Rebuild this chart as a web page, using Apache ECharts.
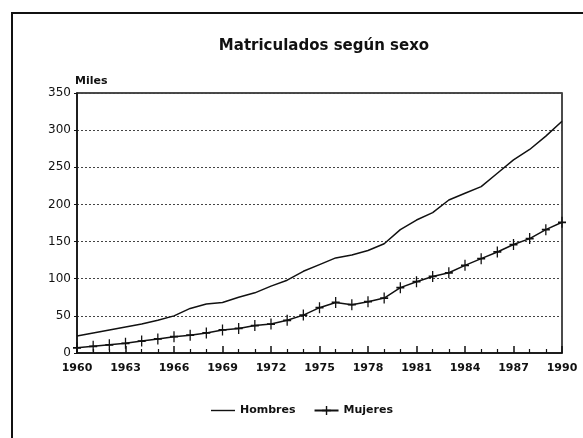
<!DOCTYPE html>
<html>
<head>
<meta charset="utf-8">
<script src="https://cdn.jsdelivr.net/npm/echarts@6/dist/echarts.min.js"></script>
<style>
html,body{margin:0;padding:0;background:#fff;}
#chart{width:583px;height:438px;}
</style>
</head>
<body>
<div id="chart"></div>
<script>
const years = [1960,1961,1962,1963,1964,1965,1966,1967,1968,1969,1970,1971,1972,1973,1974,1975,1976,1977,1978,1979,1980,1981,1982,1983,1984,1985,1986,1987,1988,1989,1990];
const hombres = [23,27,31,35,39,44,50,60,66,68,75,81,90,98,110,119,128,132,138,147,166,179,189,206,215,224,242,260,274,292,312];
const mujeres = [7,9,11,13,16,19,22,24,27,31,33,37,39,44,51,61,68,65,69,74,88,96,103,108,118,127,136,146,154,166,176];
const seriesNames = ['Hombres','Mujeres'];
const titleText = 'Matriculados según sexo';
const yUnit = 'Miles';

const font = 'DejaVu Sans';
const chart = echarts.init(document.getElementById('chart'));
const plus = 'path://M4.2,0H5.8V4.2H10V5.8H5.8V10H4.2V5.8H0V4.2H4.2Z';
const lineIcon = 'path://M0,4.3H24V5.7H0Z';
chart.setOption({
  animation:false,
  backgroundColor:'#fff',
  title:{text:titleText,left:319,top:34,textAlign:'center',
    textStyle:{fontFamily:font,fontWeight:'bold',fontSize:15,color:'#111'}},
  graphic:[{type:'rect',shape:{x:12,y:13,width:620,height:480},
    style:{fill:'none',stroke:'#111',lineWidth:2},silent:true}],
  legend:{top:400,left:206,itemGap:18,itemWidth:24,itemHeight:11,
    textStyle:{fontFamily:font,fontWeight:'bold',fontSize:11,color:'#111'},
    data:[{name:seriesNames[0],icon:lineIcon},{name:seriesNames[1]}]},
  grid:{left:77,right:21,top:93,bottom:85,show:true,borderColor:'#111',borderWidth:1.5},
  xAxis:{type:'value',min:1960,max:1990,interval:3,
    axisLine:{lineStyle:{color:'#111',width:1.5}},
    axisTick:{inside:true,length:7,lineStyle:{color:'#111',width:1.5}},
    minorTick:{show:true,splitNumber:3,length:4,lineStyle:{color:'#111',width:1.2}},
    splitLine:{show:false},
    axisLabel:{fontFamily:font,fontWeight:'bold',fontSize:11,color:'#111',margin:10,formatter:v=>String(v)}},
  yAxis:{type:'value',min:0,max:350,interval:50,name:yUnit,nameLocation:'end',
    nameGap:6,nameTextStyle:{fontFamily:font,fontWeight:'bold',fontSize:11,color:'#111',align:'left',padding:[0,0,0,-2]},
    axisLine:{show:true,lineStyle:{color:'#111',width:1.5}},
    axisTick:{show:true,length:3,lineStyle:{color:'#111'}},
    splitLine:{lineStyle:{color:'#444',type:[2,2],width:1}},
    axisLabel:{fontFamily:font,fontSize:12,color:'#111',margin:6}},
  series:[
    {name:seriesNames[0],type:'line',data:years.map((y,i)=>[y,hombres[i]]),
      symbol:'none',lineStyle:{color:'#111',width:1.5},itemStyle:{color:'#111'}},
    {name:seriesNames[1],type:'line',data:years.map((y,i)=>[y,mujeres[i]]),
      symbol:plus,symbolSize:[8,11],showSymbol:true,
      lineStyle:{color:'#111',width:1.5},itemStyle:{color:'#111'}}
  ]
});
</script>
</body>
</html>
